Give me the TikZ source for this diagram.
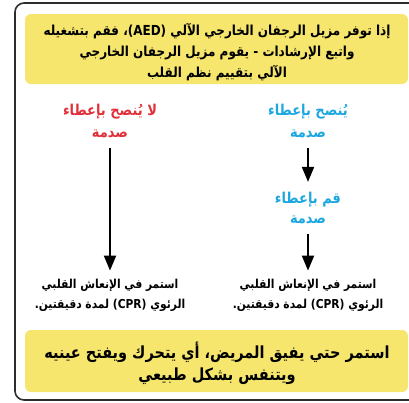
\documentclass[tikz,border=0pt]{standalone}
\usepackage{fontspec}
\usetikzlibrary{arrows.meta}
\TeXXeTstate=1
\newfontfamily\arabicfont[Script=Arabic]{DejaVu Sans}
\definecolor{ylw}{RGB}{246,230,110}
\definecolor{redt}{RGB}{226,48,58}
\definecolor{bluet}{RGB}{28,167,225}
\definecolor{frame}{RGB}{45,45,45}
\tikzset{
  ar/.style={font=\arabicfont\bfseries, align=center, inner sep=0pt, yscale=1.15, transform shape},
  ybox/.style={fill=ylw, rounded corners=6pt},
  arr/.style={line width=2pt, -{Triangle[length=15pt,width=12pt]}},
}
\begin{document}
\begin{tikzpicture}[x=1pt,y=-1pt]
\useasboundingbox (0,0) rectangle (409,402);
\clip (0,0) rectangle (409,402);
\draw[frame, line width=1.6pt, rounded corners=9pt] (15,3) rectangle (450,400);
\fill[ybox] (25,14) rectangle (408,84);
\fill[ybox] (25,330) rectangle (408,392);
\node[ar, font=\arabicfont\bfseries\fontsize{12}{18.3}\selectfont] (t) at (217,52)
  {\beginR إذا توفر مزيل الرجفان الخارجي الآلي (\beginL AED\endL)، فقم بتشغيله\endR\\
   \beginR واتبع الإرشادات - يقوم مزيل الرجفان الخارجي\endR\\
   \beginR الآلي بتقييم نظم القلب\endR};
\node[ar, text=redt, font=\arabicfont\bfseries\fontsize{13}{19.1}\selectfont] (r) at (110,121)
  {\beginR لا يُنصح بإعطاء\endR\\ \beginR صدمة\endR};
\node[ar, text=bluet, font=\arabicfont\bfseries\fontsize{13}{19.1}\selectfont] (b1) at (308,121)
  {\beginR يُنصح بإعطاء\endR\\ \beginR صدمة\endR};
\node[ar, text=bluet, font=\arabicfont\bfseries\fontsize{13}{17.4}\selectfont] (b2) at (308,208)
  {\beginR قم بإعطاء\endR\\ \beginR صدمة\endR};
\node[ar, font=\arabicfont\bfseries\fontsize{10.7}{17.4}\selectfont] (cl) at (110,295)
  {\beginR استمر في الإنعاش القلبي\endR\\ \beginR الرئوي (\beginL CPR\endL) لمدة دقيقتين.\endR};
\node[ar, font=\arabicfont\bfseries\fontsize{10.7}{17.4}\selectfont] (cr) at (308,295)
  {\beginR استمر في الإنعاش القلبي\endR\\ \beginR الرئوي (\beginL CPR\endL) لمدة دقيقتين.\endR};
\node[ar, font=\arabicfont\bfseries\fontsize{14.5}{19.1}\selectfont] (bt) at (217,363)
  {\beginR استمر حتي يفيق المريض، أي يتحرك ويفتح عينيه\endR\\ \beginR ويتنفس بشكل طبيعي\endR};
\draw[arr, shorten <=10pt, shorten >=8pt] (r) -- (cl);
\draw[arr, shorten <=10pt, shorten >=10pt] (b1) -- (b2);
\draw[arr, shorten <=10pt, shorten >=8pt] (b2) -- (cr);
\end{tikzpicture}
\end{document}
